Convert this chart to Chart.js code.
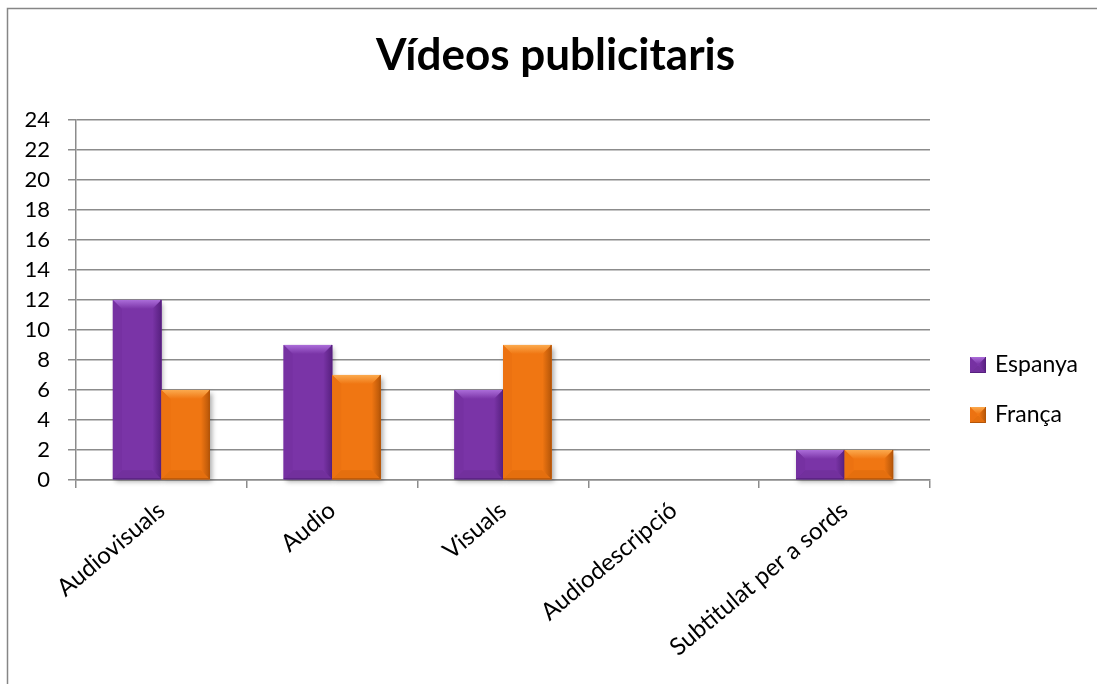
<!DOCTYPE html>
<html>
<head>
<meta charset="utf-8">
<title>Vídeos publicitaris</title>
<script src="https://cdn.jsdelivr.net/npm/chart.js@4.4.1/dist/chart.umd.min.js"></script>
<style>
  body { margin: 0; background: #fff; }
  canvas { display: block; }
</style>
</head>
<body>
<canvas id="grafic" width="1097" height="684"></canvas>
<script>
var categories = ['Audiovisuals', 'Audio', 'Visuals', 'Audiodescripció', 'Subtitulat per a sords'];
var espanya = [12, 9, 6, 0, 2];
var franca = [6, 7, 9, 0, 2];
var seriesNames = ['Espanya', 'França'];
var yMin = 0, yMax = 24, yStep = 2;

var FONT = 'Lato, "Open Sans", sans-serif';
var GRID = '#8c8c8c';

// face / highlight / shade tones for the bevelled bars
var shades = [
  { face: '#7a34a7', light: '#ab6dd9', side: '#7631a2', dark: '#57207f', bottom: '#72309d' },
  { face: '#f07612', light: '#fbaa4e', side: '#ec7211', dark: '#b45508', bottom: '#e56f0e' }
];

function poly(ctx, pts, fill) {
  ctx.beginPath();
  ctx.moveTo(pts[0][0], pts[0][1]);
  for (var i = 1; i < pts.length; i++) ctx.lineTo(pts[i][0], pts[i][1]);
  ctx.closePath();
  ctx.fillStyle = fill;
  ctx.fill();
}

// draws a rectangle with a bevel (lit top, darker right and bottom)
function bevelRect(ctx, l, t, r, b, c, size) {
  var s = Math.min(size, (r - l) / 2, (b - t) / 2);
  ctx.save();
  ctx.fillStyle = c.face;
  ctx.fillRect(l, t, r - l, b - t);
  var g = ctx.createLinearGradient(0, t, 0, t + s);
  g.addColorStop(0, c.light);
  g.addColorStop(1, c.face);
  poly(ctx, [[l, t], [r, t], [r - s, t + s], [l + s, t + s]], g);
  poly(ctx, [[l, b], [r, b], [r - s, b - s], [l + s, b - s]], c.bottom);
  poly(ctx, [[l, t], [l + s, t + s], [l + s, b - s], [l, b]], c.side);
  var gr = ctx.createLinearGradient(r - s, 0, r, 0);
  gr.addColorStop(0, c.face);
  gr.addColorStop(1, c.dark);
  poly(ctx, [[r, t], [r - s, t + s], [r - s, b - s], [r, b]], gr);
  ctx.strokeStyle = c.dark;
  ctx.lineWidth = 1;
  ctx.beginPath();
  ctx.moveTo(r - 0.5, t);
  ctx.lineTo(r - 0.5, b - 0.5);
  ctx.lineTo(l, b - 0.5);
  ctx.stroke();
  ctx.restore();
}

var bevelBars = {
  id: 'bevelBars',
  beforeDraw: function (chart) {
    var ctx = chart.ctx;
    ctx.save();
    ctx.fillStyle = '#fff';
    ctx.fillRect(0, 0, chart.width, chart.height);
    ctx.strokeStyle = '#868686';
    ctx.lineWidth = 1.5;
    ctx.strokeRect(7.5, 8.5, chart.width + 20, chart.height + 20);
    ctx.restore();
  },
  beforeDatasetsDraw: function (chart) {
    var ctx = chart.ctx;
    ctx.save();
    ctx.shadowColor = 'rgba(0,0,0,0.35)';
    ctx.shadowBlur = 5;
    ctx.shadowOffsetX = 2;
    ctx.shadowOffsetY = 3;
  },
  afterDatasetsDraw: function (chart) {
    var ctx = chart.ctx;
    ctx.restore();
    chart.data.datasets.forEach(function (ds, i) {
      chart.getDatasetMeta(i).data.forEach(function (bar) {
        var p = bar.getProps(['x', 'y', 'base', 'width'], true);
        var t = Math.min(p.y, p.base), b = Math.max(p.y, p.base);
        if (b - t < 1) return;
        bevelRect(ctx, p.x - p.width / 2, t, p.x + p.width / 2, b, shades[i], 9);
      });
    });
  },
  afterDraw: function (chart) {
    // legend in the space kept free on the right
    var ctx = chart.ctx;
    ctx.save();
    chart.data.datasets.forEach(function (ds, i) {
      var y = 365 + i * 50;
      bevelRect(ctx, 970, y - 8, 986, y + 8, shades[i], 7);
      ctx.fillStyle = '#000';
      ctx.font = '23px ' + FONT;
      ctx.textBaseline = 'middle';
      ctx.textAlign = 'left';
      ctx.fillText(ds.label, 995, y);
    });
    ctx.restore();
  }
};

new Chart(document.getElementById('grafic'), {
  type: 'bar',
  data: {
    labels: categories,
    datasets: [
      { label: seriesNames[0], data: espanya, backgroundColor: shades[0].face, clip: false },
      { label: seriesNames[1], data: franca, backgroundColor: shades[1].face, clip: false }
    ]
  },
  options: {
    responsive: false,
    animation: false,
    layout: { padding: { left: 14, right: 0, top: 0, bottom: 0 } },
    datasets: { bar: { categoryPercentage: 0.568, barPercentage: 1 } },
    plugins: {
      legend: { display: false },
      tooltip: { enabled: false },
      title: {
        display: true,
        text: 'Vídeos publicitaris',
        color: '#000',
        font: { family: FONT, size: 44, weight: 'bold' },
        padding: { top: 29, bottom: 38 }
      }
    },
    scales: {
      x: {
        grid: { drawOnChartArea: false, drawTicks: true, tickLength: 8, color: GRID, lineWidth: 1.5, offset: true },
        border: { color: GRID, width: 1.5 },
        ticks: { color: '#000', font: { family: FONT, size: 24 }, minRotation: 40, maxRotation: 40, autoSkip: false, padding: 8 },
        afterFit: function (s) { s.height = 204; }
      },
      y: {
        min: yMin,
        max: yMax,
        ticks: { stepSize: yStep, color: '#000', font: { family: FONT, size: 22 }, padding: 18 },
        grid: { color: GRID, lineWidth: 1.5, tickLength: 8 },
        border: { color: GRID, width: 1.5 },
        afterFit: function (s) { s.width = 62; }
      },
      // empty right-hand column that holds the legend
      legendSpace: {
        type: 'linear',
        position: 'right',
        grid: { display: false },
        ticks: { display: false },
        border: { display: false },
        afterFit: function (s) { s.width = 167; }
      }
    }
  },
  plugins: [bevelBars]
});
</script>
</body>
</html>
